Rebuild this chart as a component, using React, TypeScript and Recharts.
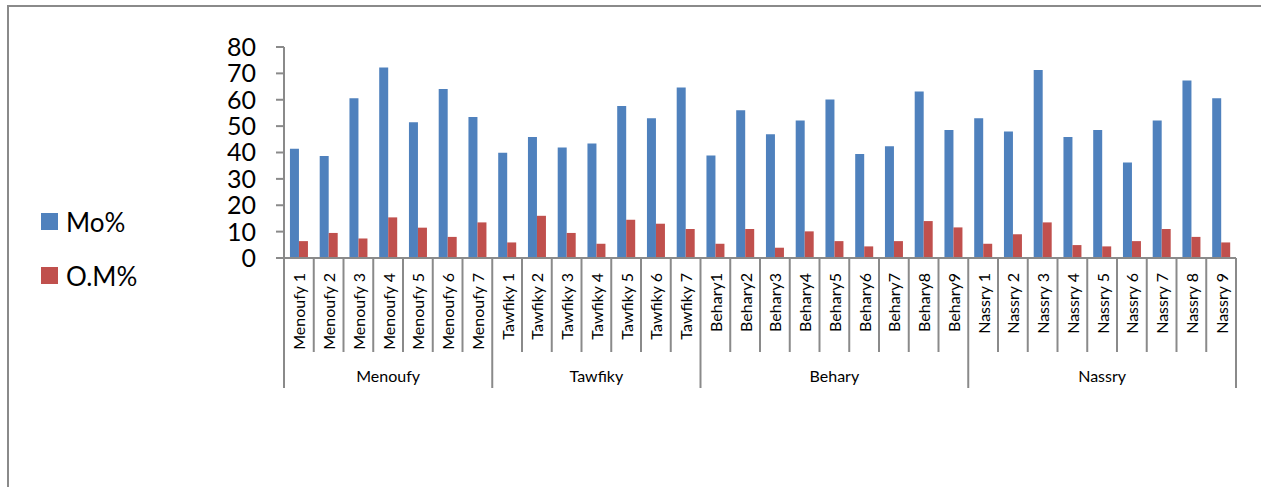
import React from 'react';
import { BarChart, Bar, XAxis, YAxis, Legend } from 'recharts';

const FONT = 'Lato, "Open Sans", sans-serif';
const AXIS_GRAY = '#8a8a8a';

// Regions and the soil samples taken in each one
const regionNames = ['Menoufy', 'Tawfiky', 'Behary', 'Nassry'];
const regionSamples = [
  ['Menoufy 1', 'Menoufy 2', 'Menoufy 3', 'Menoufy 4', 'Menoufy 5', 'Menoufy 6', 'Menoufy 7'],
  ['Tawfiky 1', 'Tawfiky 2', 'Tawfiky 3', 'Tawfiky 4', 'Tawfiky 5', 'Tawfiky 6', 'Tawfiky 7'],
  ['Behary1', 'Behary2', 'Behary3', 'Behary4', 'Behary5', 'Behary6', 'Behary7', 'Behary8', 'Behary9'],
  ['Nassry 1', 'Nassry 2', 'Nassry 3', 'Nassry 4', 'Nassry 5', 'Nassry 6', 'Nassry 7', 'Nassry 8', 'Nassry 9'],
];

// Mo% per sample, in the same order as the samples above
const moPercent = [
  41.4, 38.7, 60.6, 72.2, 51.5, 64.1, 53.5,
  39.9, 45.9, 41.9, 43.4, 57.6, 53.0, 64.6,
  38.9, 56.0, 46.9, 52.1, 60.1, 39.4, 42.4, 63.1, 48.5,
  53.0, 48.0, 71.3, 45.9, 48.5, 36.2, 52.1, 67.3, 60.6,
];

// O.M% per sample
const omPercent = [
  6.4, 9.5, 7.4, 15.4, 11.5, 8.0, 13.5,
  5.9, 16.0, 9.5, 5.4, 14.5, 13.0, 11.0,
  5.4, 11.0, 3.9, 10.1, 6.4, 4.4, 6.4, 14.0, 11.6,
  5.4, 9.0, 13.5, 4.9, 4.4, 6.4, 11.0, 8.0, 5.9,
];

const yTicks = [0, 10, 20, 30, 40, 50, 60, 70, 80];

type Row = {
  sample: string;
  region: string;
  regionStart: boolean;
  regionMiddle: boolean;
  mo: number;
  om: number;
};

const data: Row[] = [];
regionSamples.forEach((samples, r) => {
  samples.forEach((sample, i) => {
    const k = data.length;
    data.push({
      sample,
      region: regionNames[r],
      regionStart: i === 0,
      regionMiddle: i === (samples.length - 1) / 2,
      mo: moPercent[k],
      om: omPercent[k],
    });
  });
});

// Category tick: rotated sample name, separators between samples,
// longer separators and a centred name for every region
function SampleTick(props: any) {
  const { x, y, payload, index, width, visibleTicksCount } = props;
  const row = data[index];
  if (!row) return null;
  const half = width / visibleTicksCount / 2;
  const left = x - half;
  const right = x + half;
  const isLast = index === visibleTicksCount - 1;
  const shortLen = 94;
  const longLen = 130;
  return (
    <g>
      <line
        x1={left}
        y1={y}
        x2={left}
        y2={y + (row.regionStart ? longLen : shortLen)}
        stroke={AXIS_GRAY}
        strokeWidth={2}
      />
      {isLast && (
        <line x1={right} y1={y} x2={right} y2={y + longLen} stroke={AXIS_GRAY} strokeWidth={2} />
      )}
      <text
        transform={`translate(${x},${y + 15}) rotate(-90)`}
        textAnchor="end"
        dominantBaseline="central"
        fontSize={16}
        fontFamily={FONT}
        fill="#000"
      >
        {payload.value}
      </text>
      {row.regionMiddle && (
        <text
          x={x}
          y={y + 117}
          textAnchor="middle"
          dominantBaseline="central"
          fontSize={16}
          fontFamily={FONT}
          fill="#000"
        >
          {row.region}
        </text>
      )}
    </g>
  );
}

function SeriesLegend(props: any) {
  const { payload } = props;
  return (
    <div>
      {(payload || []).map((entry: any) => (
        <div
          key={entry.value}
          style={{ display: 'flex', alignItems: 'center', height: 54 }}
        >
          <span
            style={{
              display: 'inline-block',
              width: 17,
              height: 17,
              background: entry.color,
              marginRight: 8,
            }}
          />
          <span style={{ fontSize: 26, lineHeight: '26px', fontFamily: FONT, color: '#000' }}>
            {entry.value}
          </span>
        </div>
      ))}
    </div>
  );
}

// Frame of the chart area: only its top and left edges fall inside the page
const frameTop: React.CSSProperties = {
  position: 'fixed',
  left: 7,
  top: 5,
  width: 1254,
  height: 2,
  background: AXIS_GRAY,
};
const frameLeft: React.CSSProperties = {
  position: 'fixed',
  left: 7,
  top: 5,
  width: 2,
  height: 482,
  background: AXIS_GRAY,
};

export default function App() {
  return (
    <div style={{ position: 'relative', width: 1245, height: 471, fontFamily: FONT }}>
      <BarChart
        width={1245}
        height={471}
        data={data}
        margin={{ top: 39, right: 17, bottom: 81, left: 216 }}
        barCategoryGap="20%"
        barGap={0}
      >
        <XAxis
          dataKey="sample"
          interval={0}
          tickLine={false}
          tickSize={0}
          tickMargin={0}
          height={140}
          axisLine={{ stroke: AXIS_GRAY, strokeWidth: 2 }}
          tick={<SampleTick />}
        />
        <YAxis
          width={60}
          domain={[0, 80]}
          ticks={yTicks}
          interval={0}
          tickSize={8}
          tickMargin={20}
          axisLine={{ stroke: AXIS_GRAY, strokeWidth: 2 }}
          tickLine={{ stroke: AXIS_GRAY, strokeWidth: 2 }}
          tick={{ fill: '#000', fontSize: 25, fontFamily: FONT }}
        />
        <Legend
          layout="vertical"
          align="center"
          verticalAlign="middle"
          content={<SeriesLegend />}
          wrapperStyle={{ left: 33, top: 186.5, width: 'auto' }}
        />
        <Bar dataKey="mo" name="Mo%" fill="#4F81BD" isAnimationActive={false} />
        <Bar dataKey="om" name="O.M%" fill="#C0504D" isAnimationActive={false} />
      </BarChart>
      <div style={frameTop} />
      <div style={frameLeft} />
    </div>
  );
}
